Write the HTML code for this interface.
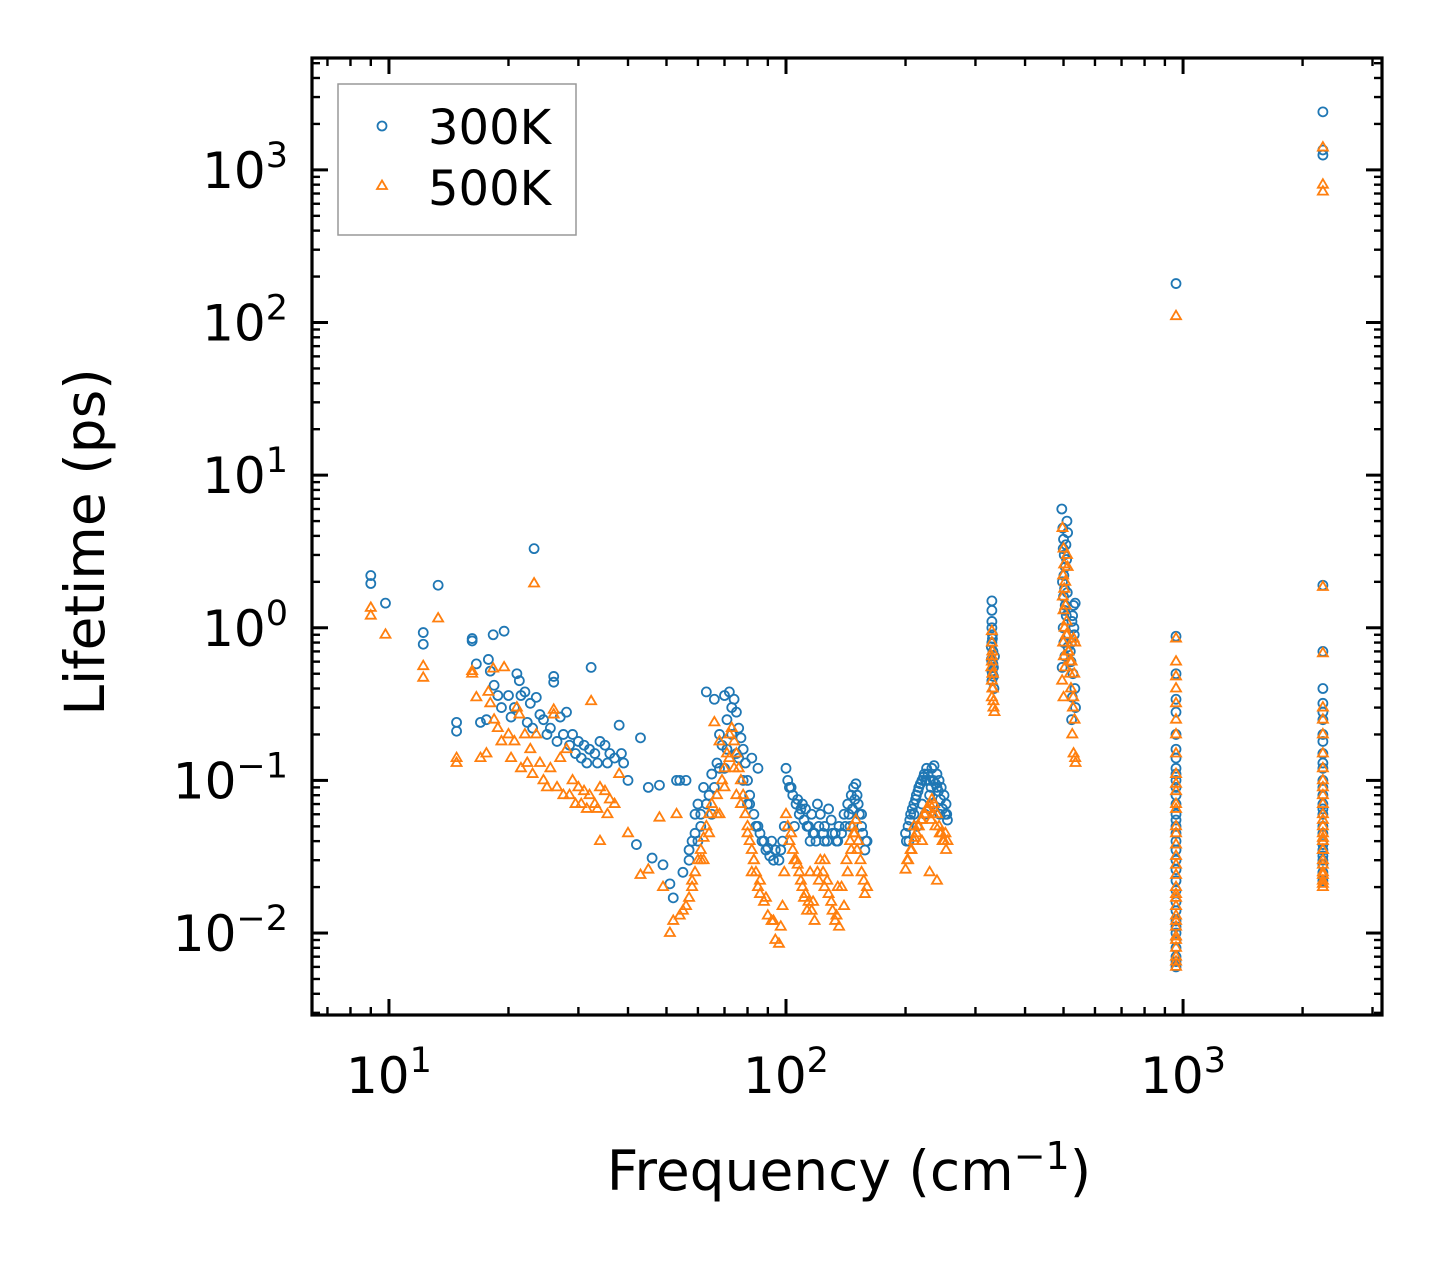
<!DOCTYPE html>
<html><head><meta charset="utf-8"><style>
html,body{margin:0;padding:0;background:#fff;}
svg{display:block;font-family:"DejaVu Sans","Liberation Sans",sans-serif;}
</style></head><body>
<svg id="chart" width="1442" height="1265" viewBox="0 0 1442 1265" xmlns="http://www.w3.org/2000/svg">
<rect width="1442" height="1265" fill="#fff"/>
<g id="marks"></g>
<g id="axes"></g>
<text x="849" y="1190" font-size="55" text-anchor="middle">Frequency (cm<tspan dy="-21" font-size="38">−1</tspan><tspan dy="21">)</tspan></text>
<text transform="translate(104,542) rotate(-90)" font-size="55" text-anchor="middle">Lifetime (ps)</text>
<g>
<rect x="338" y="84" width="238" height="151" fill="#fff" stroke="#999" stroke-width="1.5"/>
<circle cx="382" cy="126" r="4.5" fill="none" stroke="#1f77b4" stroke-width="1.8"/>
<text x="428" y="144" font-size="48">300K</text>
<polygon points="382,180.5 387,189 377,189" fill="none" stroke="#ff7f0e" stroke-width="1.8"/>
<text x="428" y="205" font-size="48">500K</text>
</g>
</svg>
<script>
const xTicks=[10,100,1000];
const yTicks=[0.01,0.1,1,10,100,1000];
const xTickExp=["1","2","3"];
const yTickExp=["−2","−1","0","1","2","3"];
const freq300=[9,9,9.8,12.2,12.2,13.3,14.8,14.8,16.2,16.2,16.6,17,17.6,17.8,18,18.3,18.4,18.8,19.5,19.2,20,20.3,20.7,21,21.3,21.5,22,22.3,22.7,23.2,23,23.5,24,24.5,25,25.5,26,26,26.5,27,27.5,28,28.5,29,29.5,30,30.5,31,31.5,32.3,32,33,33.5,34,35,35.5,36,37,38,38.5,39,43,40,45,42,46,48,49,51,52,53,54,56,57,58,59,60,61,62,63,64,65,66,67,68,69,70,71,72,73,74,75,76,77,78,79,80,81,82,83,84,85,86,88,90,92,94,96,98,100,101,102,104,106,108,110,112,114,116,118,120,122,125,128,130,133,136,140,143,146,148,150,152,155,158,160,60,65,70,75,80,85,105,115,125,135,145,155,200,203,206,210,213,216,220,223,226,230,233,236,240,243,246,250,253,210,220,230,240,330,330,330,331,330,332,330,331,330,333,335,329,334,495,498,500,502,505,497,500,503,499,501,504,496,510,512,508,515,520,525,530,535,532,528,526,524,522,960,960,960,960,960,960,960,960,960,960,960,960,960,960,960,960,960,960,960,960,960,960,960,960,2250,2250,2250,2250,2250,2250,2250,2250,2250,2250,2250,2250,2250,2250,2250,2250,2250,2250,2250,2250,2250,
55,57,59,61,63,66,68,71,73,76,78,81,84,87,89,91,93,97,99,103,107,109,111,113,117,119,121,124,127,131,134,138,141,144,147,149,151,153,156,159,201,205,208,212,215,218,222,225,228,232,235,238,242,245,248,252,255,204,214,224,234,244,254,330,331,332,329,333,330,499,501,503,505,507,509,511,513,518,523,527,531,534,536,960,960,960,960,960,960,960,960,960,960,2250,2250,2250,2250,2250,2250,2250,2250,2250,2250];
const life300=[2.2,1.95,1.45,0.93,0.78,1.9,0.24,0.21,0.85,0.82,0.58,0.24,0.25,0.62,0.52,0.9,0.42,0.36,0.95,0.3,0.36,0.26,0.3,0.5,0.45,0.36,0.38,0.24,0.32,3.3,0.22,0.35,0.27,0.25,0.2,0.22,0.48,0.44,0.18,0.26,0.2,0.28,0.17,0.2,0.15,0.18,0.14,0.17,0.13,0.55,0.16,0.15,0.13,0.18,0.17,0.13,0.15,0.14,0.23,0.15,0.13,0.19,0.1,0.09,0.038,0.031,0.093,0.028,0.021,0.017,0.1,0.1,0.1,0.03,0.04,0.06,0.07,0.05,0.09,0.38,0.08,0.11,0.34,0.13,0.2,0.17,0.36,0.25,0.38,0.3,0.34,0.28,0.22,0.19,0.16,0.13,0.1,0.08,0.14,0.06,0.05,0.12,0.045,0.04,0.036,0.04,0.035,0.03,0.04,0.12,0.1,0.09,0.08,0.07,0.06,0.07,0.065,0.05,0.06,0.045,0.07,0.06,0.05,0.065,0.055,0.045,0.05,0.06,0.07,0.08,0.09,0.095,0.07,0.05,0.035,0.04,0.04,0.06,0.12,0.15,0.07,0.05,0.05,0.04,0.04,0.04,0.05,0.06,0.045,0.05,0.06,0.07,0.08,0.09,0.1,0.11,0.12,0.1,0.12,0.125,0.11,0.1,0.09,0.08,0.07,0.06,0.07,0.08,0.09,1.5,1.3,1.1,0.9,0.8,0.7,0.6,0.5,0.45,0.55,0.65,0.75,0.4,6,4.5,3.8,3,2.5,2,1.6,1.3,1,0.8,0.65,0.55,5,4.2,1.2,0.9,0.7,1.1,1.4,1.45,0.9,0.5,0.35,0.25,0.6,180,0.88,0.5,0.34,0.28,0.2,0.16,0.12,0.1,0.09,0.07,0.06,0.05,0.04,0.035,0.03,0.022,0.019,0.016,0.012,0.01,0.009,0.007,0.006,2400,1350,1250,1.9,0.7,0.4,0.32,0.25,0.2,0.15,0.12,0.1,0.08,0.07,0.06,0.05,0.04,0.035,0.03,0.025,0.022,
0.025,0.035,0.045,0.06,0.07,0.09,0.12,0.16,0.2,0.14,0.1,0.07,0.05,0.04,0.035,0.032,0.03,0.035,0.05,0.09,0.075,0.065,0.055,0.05,0.045,0.04,0.05,0.045,0.04,0.045,0.04,0.045,0.05,0.06,0.065,0.075,0.08,0.06,0.045,0.04,0.04,0.055,0.065,0.075,0.085,0.095,0.105,0.1,0.11,0.09,0.1,0.095,0.085,0.075,0.065,0.06,0.055,0.04,0.05,0.06,0.07,0.06,0.06,1.0,0.85,0.58,0.62,0.48,0.52,3.3,2.2,1.8,1.4,3.5,2.8,1.7,0.75,0.6,0.8,1.2,1.0,0.4,0.3,0.14,0.11,0.08,0.055,0.045,0.026,0.014,0.011,0.008,0.0065,0.28,0.18,0.13,0.09,0.065,0.045,0.038,0.032,0.028,0.024];
const freq500=[9,9,9.8,12.2,12.2,13.3,14.8,14.8,16.2,16.2,16.6,17,17.6,17.8,18,18.3,18.4,18.8,19.5,19.2,20,20.3,20.7,21,21.3,21.5,22,22.3,22.7,23.2,23,23.5,24,24.5,25,25.5,26,26,26.5,27,27.5,28,28.5,29,29.5,30,30.5,31,31.5,32.3,32,33,33.5,34,35,35.5,36,37,38,34,40,43,45,48,49,51,52,53,54,56,57,58,59,60,61,62,63,64,65,66,67,68,69,70,71,72,73,74,75,76,77,78,79,80,81,82,83,84,85,86,88,90,92,94,96,98,100,101,102,104,106,108,110,112,114,116,118,120,122,125,128,130,133,136,140,143,146,148,150,152,155,158,160,62,68,75,82,105,115,125,135,200,203,206,210,213,216,220,223,226,230,233,236,240,243,246,250,253,240,230,210,220,330,330,331,330,332,330,331,330,333,335,329,497,500,502,505,498,500,503,499,501,504,496,500,510,512,508,515,520,525,530,535,532,528,526,530,535,522,960,960,960,960,960,960,960,960,960,960,960,960,960,960,960,960,960,960,960,960,960,960,960,2250,2250,2250,2250,2250,2250,2250,2250,2250,2250,2250,2250,2250,2250,2250,2250,2250,2250,2250,
55,58,61,64,67,70,72,74,77,80,83,86,89,93,97,99,103,107,109,111,113,117,121,124,127,131,134,138,142,145,147,149,151,154,157,202,207,211,215,219,224,228,232,235,238,244,248,252,255,330,331,332,333,499,502,506,509,511,514,519,524,529,533,536,960,960,960,960,960,960,960,960,960,960,2250,2250,2250,2250,2250,2250,2250,2250,2250,2250];
const life500=[1.35,1.2,0.9,0.56,0.47,1.15,0.14,0.13,0.52,0.5,0.35,0.14,0.15,0.38,0.32,0.54,0.25,0.22,0.55,0.18,0.2,0.14,0.18,0.3,0.27,0.12,0.2,0.13,0.16,1.95,0.11,0.2,0.13,0.1,0.09,0.12,0.29,0.27,0.09,0.14,0.08,0.16,0.08,0.1,0.07,0.09,0.07,0.085,0.065,0.33,0.08,0.07,0.065,0.09,0.085,0.06,0.075,0.07,0.11,0.04,0.045,0.024,0.026,0.057,0.02,0.01,0.012,0.06,0.013,0.015,0.017,0.02,0.025,0.03,0.035,0.042,0.05,0.06,0.07,0.24,0.08,0.18,0.1,0.12,0.15,0.2,0.22,0.18,0.15,0.12,0.1,0.08,0.06,0.05,0.04,0.035,0.03,0.025,0.02,0.018,0.016,0.013,0.012,0.009,0.0085,0.015,0.06,0.05,0.04,0.035,0.03,0.025,0.02,0.018,0.016,0.014,0.012,0.025,0.03,0.02,0.018,0.016,0.012,0.011,0.015,0.025,0.035,0.045,0.055,0.04,0.025,0.018,0.02,0.03,0.06,0.08,0.025,0.03,0.025,0.03,0.02,0.026,0.03,0.035,0.04,0.045,0.05,0.055,0.06,0.065,0.07,0.075,0.07,0.06,0.05,0.045,0.04,0.035,0.022,0.025,0.05,0.04,0.95,0.8,0.7,0.6,0.5,0.45,0.4,0.35,0.3,0.28,0.55,4.5,3.3,2.6,2,1.6,1.3,1,0.8,0.65,0.55,0.45,0.35,3,2.5,0.9,0.7,0.6,0.8,0.85,0.8,0.5,0.3,0.2,0.15,0.14,0.4,110,0.85,0.48,0.32,0.25,0.2,0.15,0.11,0.085,0.065,0.05,0.038,0.028,0.024,0.02,0.017,0.015,0.013,0.011,0.009,0.008,0.007,0.006,1400,800,720,1.85,0.68,0.3,0.2,0.15,0.1,0.08,0.06,0.05,0.045,0.04,0.035,0.03,0.025,0.022,0.02,
0.014,0.022,0.03,0.045,0.06,0.09,0.14,0.12,0.07,0.045,0.03,0.022,0.017,0.012,0.011,0.025,0.045,0.028,0.022,0.017,0.014,0.016,0.022,0.025,0.022,0.014,0.013,0.02,0.03,0.04,0.05,0.045,0.035,0.03,0.022,0.03,0.035,0.042,0.05,0.055,0.06,0.065,0.055,0.06,0.05,0.045,0.04,0.045,0.04,0.65,0.5,0.4,0.33,2.2,1.8,1.4,1.1,0.9,0.7,0.5,0.6,0.35,0.25,0.13,0.6,0.4,0.095,0.07,0.045,0.032,0.018,0.012,0.0095,0.0065,0.25,0.12,0.09,0.07,0.055,0.042,0.035,0.028,0.024,0.021];

const X0=312,X1=1382,Y0=58,Y1=1015;
const xmin=Math.log10(6.4),xmax=Math.log10(3170),ymin=-2.537,ymax=3.733;
const xs=v=>X0+(Math.log10(v)-xmin)/(xmax-xmin)*(X1-X0);
const ys=v=>Y1-(Math.log10(v)-ymin)/(ymax-ymin)*(Y1-Y0);
const NS="http://www.w3.org/2000/svg";
const marks=document.getElementById('marks');
const axes=document.getElementById('axes');
function mk(tag,attrs,parent){const e=document.createElementNS(NS,tag);for(const k in attrs)e.setAttribute(k,attrs[k]);parent.appendChild(e);return e;}

for(let i=0;i<freq300.length;i++){
  const c=mk('circle',{cx:xs(freq300[i]),cy:ys(life300[i]),r:4.5,fill:'none',stroke:'#1f77b4','stroke-width':1.8},marks);
  
  
}
for(let i=0;i<freq500.length;i++){
  const x=xs(freq500[i]),y=ys(life500[i]);
  const p=mk('polygon',{points:`${x},${y-5.5} ${x+5},${y+3} ${x-5},${y+3}`,fill:'none',stroke:'#ff7f0e','stroke-width':1.8},marks);
  
  
}
const fr=mk('rect',{x:X0,y:Y0,width:X1-X0,height:Y1-Y0,fill:'none',stroke:'#000','stroke-width':3.2},axes);


function tickX(v,len,w){const x=xs(v);mk('line',{x1:x,x2:x,y1:Y1,y2:Y1-len,stroke:'#000','stroke-width':w},axes);mk('line',{x1:x,x2:x,y1:Y0,y2:Y0+len,stroke:'#000','stroke-width':w},axes);}
function tickY(v,len,w){const y=ys(v);mk('line',{x1:X0,x2:X0+len,y1:y,y2:y,stroke:'#000','stroke-width':w},axes);mk('line',{x1:X1,x2:X1-len,y1:y,y2:y,stroke:'#000','stroke-width':w},axes);}
for(let d=0;d<=3;d++)for(let m=1;m<=9;m++){const v=m*Math.pow(10,d);if(v<6.4||v>3170)continue;tickX(v,m===1?16:8,m===1?3:2.4);}
for(let d=-3;d<=3;d++)for(let m=1;m<=9;m++){const v=m*Math.pow(10,d);const lv=Math.log10(v);if(lv<ymin||lv>ymax)continue;tickY(v,m===1?16:8,m===1?3:2.4);}
xTicks.forEach((v,i)=>{
  const t=mk('text',{x:xs(v),y:1093,'font-size':50,'text-anchor':'middle'},axes);
  
  
  t.innerHTML=`10<tspan dy="-21" font-size="35">${xTickExp[i]}</tspan>`;
});
yTicks.forEach((v,i)=>{
  const t=mk('text',{x:288,y:ys(v)+18,'font-size':50,'text-anchor':'end'},axes);
  
  
  t.innerHTML=`10<tspan dy="-21" font-size="35">${yTickExp[i]}</tspan>`;
});
</script>
</body></html>
